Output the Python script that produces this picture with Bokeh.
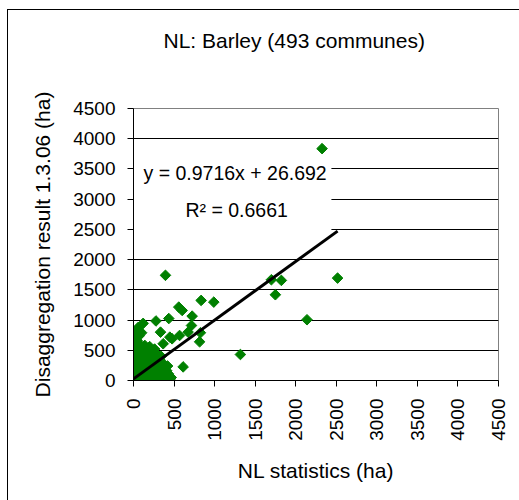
import math
from bokeh.plotting import figure
from bokeh.models import FixedTicker, BoxAnnotation, Label, ColumnDataSource, LinearAxis
from bokeh.embed import file_html
from bokeh.resources import INLINE

# ---------------- data ----------------
x_ticks = [0, 500, 1000, 1500, 2000, 2500, 3000, 3500, 4000, 4500]
y_ticks = [0, 500, 1000, 1500, 2000, 2500, 3000, 3500, 4000, 4500]

# isolated communes (NL statistics ha, disaggregation result ha)
outlier_stat = [2325, 2516, 1700, 1823, 1749, 2139, 1318, 394, 834, 990, 558, 600, 723, 715,
                435, 277, 119, 612, 825, 815, 568, 333, 25, 476, 448, 366, 673]
outlier_result = [3836, 1694, 1667, 1656, 1419, 1005, 430, 1740, 1325, 1297, 1214, 1159, 1065, 910,
                  1025, 985, 945, 225, 790, 640, 745, 800, 700, 690, 717, 608, 800]

# dense cluster of small communes
cluster_stat = [3, 10, 18, 25, 35, 48, 55, 68, 80, 92, 105, 118, 130, 145, 160, 175, 190, 205,
                220, 240, 260, 280, 300, 320, 340, 360, 385, 405, 420, 440, 455, 465, 430, 395,
                5, 15, 28, 40, 52, 65, 78, 90, 102, 115, 128, 140, 155, 170, 185, 200, 215, 230,
                248, 265, 280, 300, 320, 340, 360, 375, 390, 410, 420, 350,
                3, 12, 25, 38, 50, 62, 75, 88, 100, 115, 128, 140, 155, 170, 185, 200, 215, 230,
                245, 260, 280, 300, 320, 340, 20, 60, 110,
                5, 18, 30, 45, 60, 75, 90, 110, 140, 170, 200, 260,
                10, 40, 70, 100, 60, 20]
cluster_result = [5, 20, 8, 40, 15, 60, 25, 10, 45, 70, 30, 55, 15, 80, 40, 20, 65, 10,
                  50, 30, 75, 15, 45, 90, 20, 60, 35, 10, 70, 25, 5, 50, 110, 95,
                  120, 180, 140, 230, 110, 260, 190, 150, 280, 210, 130, 250, 170, 290, 120, 230, 160, 270,
                  140, 210, 180, 260, 140, 230, 170, 120, 210, 160, 240, 300,
                  330, 420, 360, 480, 310, 400, 450, 340, 490, 380, 430, 320, 470, 360, 410, 340, 460, 390,
                  330, 440, 370, 420, 350, 400, 260, 200, 90,
                  540, 620, 580, 660, 520, 600, 560, 530, 580, 520, 560, 520,
                  760, 820, 740, 790, 880, 700]

stat_ha = outlier_stat + cluster_stat
result_ha = outlier_result + cluster_result

# linear trend (as reported on the chart)
slope = 0.9716
intercept = 26.692
r_squared = 0.6661

title_text = "NL: Barley (493 communes)"

# ---------------- figure ----------------
FONT = "Liberation Sans"
GREEN = "#008000"

p = figure(frame_width=365, frame_height=272,
           x_range=(0, 4500), y_range=(0, 4500),
           min_border_left=125, min_border_right=21,
           min_border_top=98, min_border_bottom=120,
           output_backend="svg", toolbar_location=None,
           background_fill_color="white", border_fill_color="white")
p.styles = {"margin-left": "8px", "margin-top": "10px", "outline": "1px solid black"}

xax = p.below[0]
yax = p.left[0]

# invisible spacer between the frame and the title (ticks hidden, labels blank)
spacer = LinearAxis(ticker=FixedTicker(ticks=x_ticks), axis_line_color=None,
                    major_tick_line_color=None, minor_tick_line_color=None,
                    major_tick_out=57, major_tick_in=0, major_label_standoff=0,
                    major_label_text_font_size="1px",
                    major_label_overrides={t: "" for t in x_ticks})
p.add_layout(spacer, "above")

p.title.text = title_text
p.title.text_font = FONT
p.title.text_font_size = "21px"
p.title.text_font_style = "normal"
p.title.text_color = "black"
p.title.align = "left"
p.title.offset = 30
p.title.standoff = 0

p.outline_line_color = "#808080"
p.outline_line_width = 1

for ax in (xax, yax):
    ax.axis_line_color = "black"
    ax.major_tick_line_color = "black"
    ax.major_tick_out = 6
    ax.major_tick_in = 0
    ax.minor_tick_line_color = None
    ax.major_label_text_font = FONT
    ax.major_label_text_font_size = "19px"
    ax.major_label_text_color = "black"
    ax.major_label_standoff = 12
    ax.axis_label_text_font = FONT
    ax.axis_label_text_font_size = "21px"
    ax.axis_label_text_font_style = "normal"
    ax.axis_label_text_color = "black"

xax.axis_label_standoff = 15
yax.axis_label_standoff = 16
xax.ticker = FixedTicker(ticks=x_ticks)
yax.ticker = FixedTicker(ticks=y_ticks)
xax.major_label_orientation = math.pi / 2
xax.axis_label = "NL statistics (ha)"
yax.axis_label = "Disaggregation result 1.3.06 (ha)"

p.xgrid.grid_line_color = None
p.ygrid.ticker = FixedTicker(ticks=y_ticks[1:-1])
p.ygrid.grid_line_color = "black"
p.ygrid.grid_line_width = 1

# white box behind the trend-line label (covers grid lines only)
label_box = BoxAnnotation(left=0, right=2440, bottom=2450, top=3850,
                          fill_color="white", fill_alpha=1.0, line_color=None,
                          level="underlay")
p.add_layout(label_box)

src = ColumnDataSource(dict(x=stat_ha, y=result_ha))
p.scatter("x", "y", source=src, marker="square", angle=math.pi / 4, size=7.5,
          fill_color=GREEN, line_color=GREEN)

x_end = max(stat_ha)
p.line([0, x_end], [intercept, slope * x_end + intercept], line_color="black", line_width=3)

eq = Label(x=123, y=3427, text=f"y = {slope}x + {intercept}", text_font=FONT,
           text_font_size="19.5px", text_baseline="middle", text_color="black")
r2 = Label(x=640, y=2815, text=f"R\u00b2 = {r_squared}", text_font=FONT,
           text_font_size="19.5px", text_baseline="middle", text_color="black")
p.add_layout(eq)
p.add_layout(r2)

open("out.html", "w").write(file_html(p, INLINE))
